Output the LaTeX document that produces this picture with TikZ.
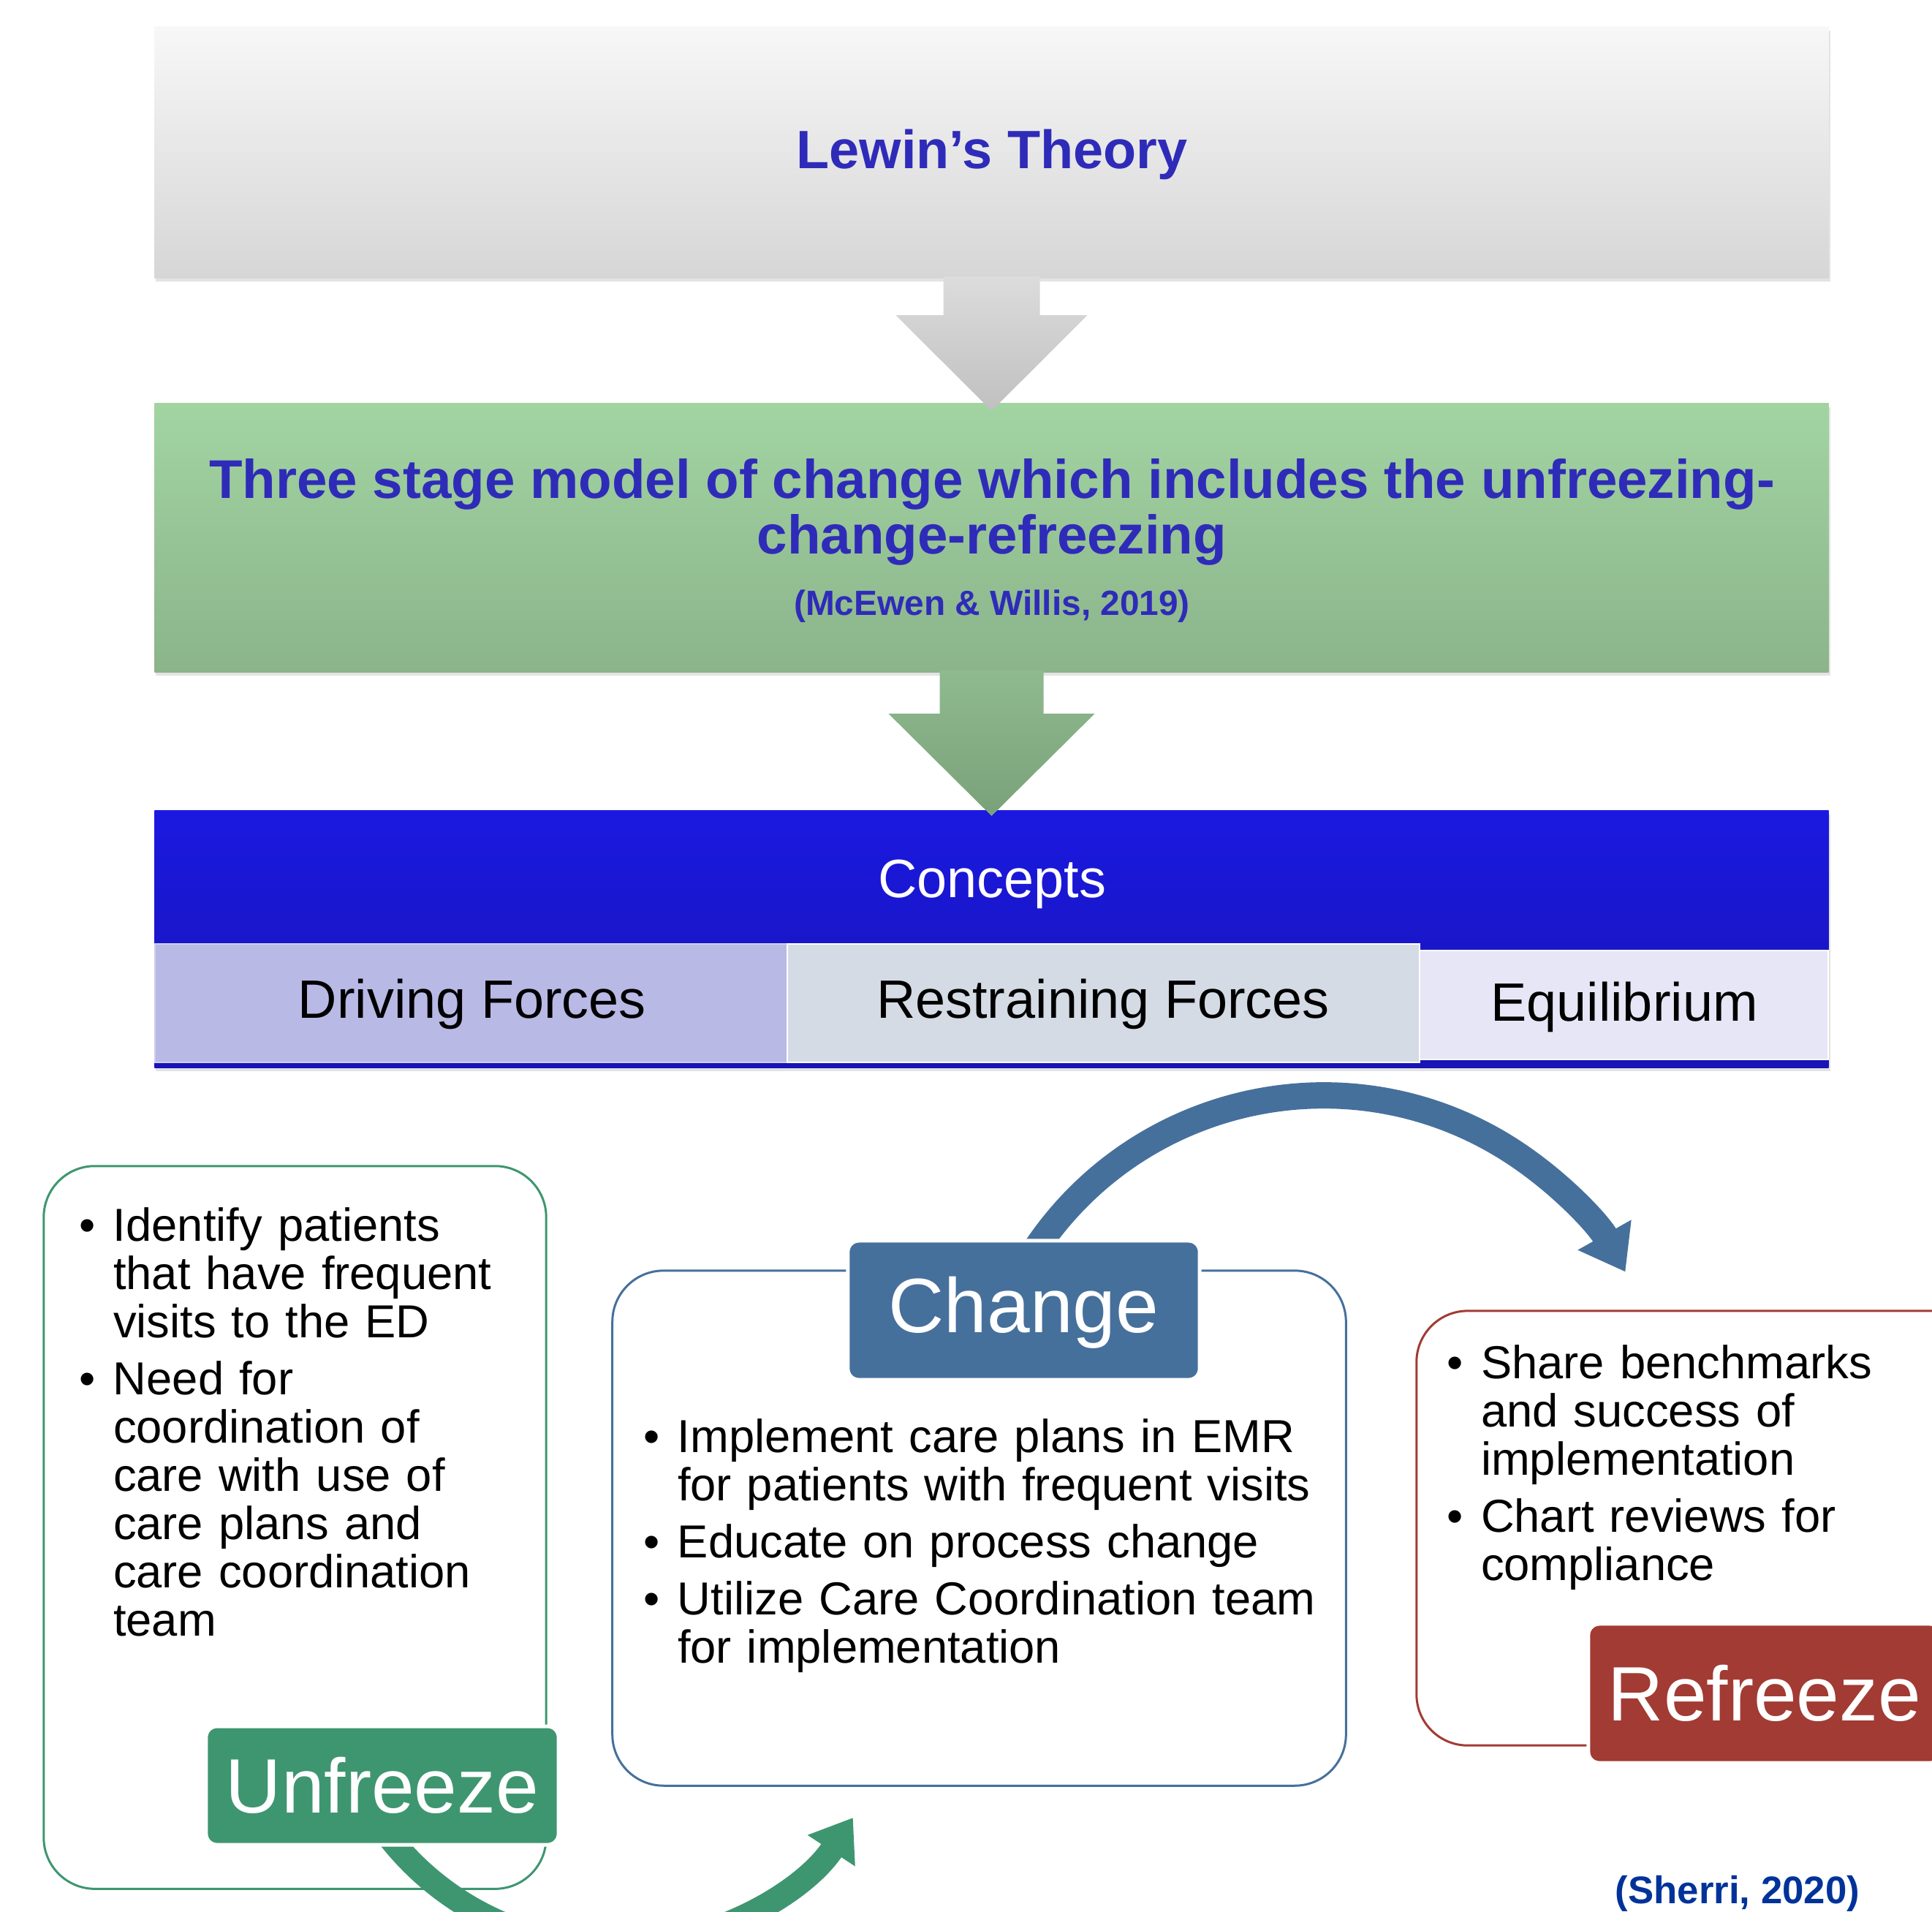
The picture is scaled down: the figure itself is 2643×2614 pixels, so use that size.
\documentclass[tikz,border=0pt]{standalone}
\usepackage{fontspec}
\setmainfont{Liberation Sans}
\usetikzlibrary{arrows.meta,calc,shadows}
\definecolor{titleblue}{RGB}{47,43,185}
\definecolor{citeblue}{RGB}{0,51,153}
\definecolor{ufgreen}{RGB}{62,150,112}
\definecolor{chblue}{RGB}{70,112,156}
\definecolor{rfred}{RGB}{162,59,51}
\definecolor{graytop}{RGB}{247,247,247}
\definecolor{graybot}{RGB}{214,214,214}
\definecolor{greentop}{RGB}{162,212,162}
\definecolor{greenbot}{RGB}{139,180,139}
\definecolor{agraytop}{RGB}{220,220,220}
\definecolor{agraybot}{RGB}{192,192,192}
\definecolor{agreentop}{RGB}{143,185,143}
\definecolor{agreenbot}{RGB}{122,162,122}
\definecolor{conctop}{RGB}{27,25,224}
\definecolor{concbot}{RGB}{24,20,182}
\definecolor{drivecol}{RGB}{185,185,230}
\definecolor{restcol}{RGB}{213,219,229}
\definecolor{equicol}{RGB}{230,230,246}
\newcommand{\bul}{\makebox[0.47cm][l]{•}}
\newcommand{\bfirst}[1]{\hangindent=0.47cm\hangafter=1\noindent\bul#1\par}
\newcommand{\bnext}[2]{\vspace{#1}\hangindent=0.47cm\hangafter=1\noindent\bul#2\par}
\begin{document}
\begin{tikzpicture}[x=0.01cm, y=-0.01cm,
  every node/.style={inner sep=0pt, outer sep=0pt},
  bigbox/.style={minimum width=22.89cm, drop shadow={shadow xshift=0.02cm, shadow yshift=-0.05cm, opacity=0.22}},
  titletext/.style={font=\bfseries\fontsize{21pt}{25pt}\selectfont, text=titleblue, anchor=base},
  celltext/.style={font=\fontsize{21pt}{25pt}\selectfont, anchor=base},
  cellbox/.style={line width=0.02cm},
  outlinebox/.style={line width=0.03cm, rounded corners=0.7cm},
  stagelabel/.style={rounded corners=0.15cm, draw=white, line width=0.05cm, text=white,
    font=\fontsize{30pt}{36pt}\selectfont, minimum width=4.82cm},
  bodytext/.style={anchor=base west, align=left, font=\fontsize{18pt}{0.66cm}\selectfont}
]
\path[use as bounding box] (0,0) rectangle (2643,2614);
\clip (0,0) rectangle (2643,2614);

% ---------- top boxes ----------
\node[bigbox, minimum height=3.43cm, top color=graytop, bottom color=graybot] (lewin) at (1356.5,208.5) {};
\node[titletext] (lewint) at (1357,230) {Lewin’s Theory};

\node[bigbox, minimum height=3.67cm, top color=greentop, bottom color=greenbot] (stage) at (1356.5,735.5) {};
\node[titletext, font=\bfseries\fontsize{21.2pt}{25pt}\selectfont] (stage1) at (1357,681) {Three stage model of change which includes the unfreezing-};
\node[titletext, font=\bfseries\fontsize{21.2pt}{25pt}\selectfont] (stage2) at (1357,757) {change-refreezing};
\node[titletext, font=\bfseries\fontsize{13.6pt}{16pt}\selectfont] (cite1) at (1357,841) {(McEwen \& Willis, 2019)};

\node[bigbox, minimum height=3.51cm, top color=conctop, bottom color=concbot] (concepts) at (1356.5,1284.5) {};
\node[celltext, text=white] (conct) at (1357,1227) {Concepts};
\node[cellbox, fill=drivecol, draw=drivecol!70!white, minimum width=8.65cm, minimum height=1.62cm] (drive) at (644.5,1372) {};
\node[cellbox, fill=restcol, draw=white, minimum width=8.65cm, minimum height=1.62cm] (rest) at (1509.5,1372) {};
\node[cellbox, fill=equicol, draw=white, minimum width=5.59cm, minimum height=1.49cm] (equi) at (2221.5,1374.5) {};
\node[celltext] (drivet) at (646,1392) {Driving Forces};
\node[celltext] (restt) at (1509,1392) {Restraining Forces};
\node[celltext] (equit) at (2222,1396) {Equilibrium};

% ---------- block arrows ----------
\shade[top color=agraytop, bottom color=agraybot]
  ($(lewin.south)+(-66,-2)$) -- ($(lewin.south)+(-66,51)$) -- ($(lewin.south)+(-131,51)$)
  -- ($(stage.north)+(0,10)$) -- ($(lewin.south)+(131,51)$) -- ($(lewin.south)+(66,51)$)
  -- ($(lewin.south)+(66,-2)$) -- cycle;
\shade[top color=agreentop, bottom color=agreenbot]
  ($(stage.south)+(-71,-2)$) -- ($(stage.south)+(-71,57)$) -- ($(stage.south)+(-141,57)$)
  -- ($(concepts.north)+(0,7)$) -- ($(stage.south)+(141,57)$) -- ($(stage.south)+(71,57)$)
  -- ($(stage.south)+(71,-2)$) -- cycle;

% ---------- stage outlines ----------
\node[outlinebox, draw=ufgreen, minimum width=6.87cm, minimum height=9.88cm] (ufb) at (403.5,2089) {};
\node[outlinebox, draw=chblue, minimum width=10.03cm, minimum height=7.04cm] (chb) at (1339.5,2090) {};
\node[outlinebox, draw=rfred, minimum width=7.82cm, minimum height=5.94cm] (rfb) at (2329,2090) {};

% ---------- curved arrows ----------
\coordinate (ufl) at (523,2442);
\coordinate (chl) at (1400.5,1792);
\coordinate (gstart) at ($(ufl)+(9,70)$);
\coordinate (bstart) at ($(chl)+(12.5,-78)$);
\draw[ufgreen, line width=0.33cm, -{Triangle[length=0.54cm, width=0.74cm]}]
  (gstart) arc[start angle=142, end angle=33.3, radius=391];
\draw[chblue, line width=0.36cm, -{Triangle[length=0.58cm, width=0.80cm]}]
  (bstart) arc[start angle=-147, end angle=-29.4, radius=474];

% ---------- stage labels ----------
\node[stagelabel, fill=ufgreen, minimum height=1.62cm] (uflab) at (ufl) {Unfreeze};
\node[stagelabel, fill=chblue, minimum width=4.81cm, minimum height=1.90cm, text depth=0.15cm] (chlab) at (chl) {Change};
\node[stagelabel, fill=rfred, minimum height=1.90cm] (rflab) at (2414,2316) {Refreeze};

% ---------- bullet texts ----------
\node[bodytext, text width=6.2cm] (uft) at (108,1697) {%
\bfirst{Identify patients\newline that have frequent\newline visits to the ED}%
\bnext{0.12cm}{Need for\newline coordination of\newline care with use of\newline care plans and\newline care coordination\newline team}};
\node[bodytext, text width=9.5cm] (cht) at (880,1986) {%
\bfirst{Implement care plans in EMR\newline for patients with frequent visits}%
\bnext{0.12cm}{Educate on process change}%
\bnext{0.12cm}{Utilize Care Coordination team\newline for implementation}};
\node[bodytext, text width=6.2cm] (rft) at (1979,1885) {%
\bfirst{Share benchmarks\newline and success of\newline implementation}%
\bnext{0.12cm}{Chart reviews for\newline compliance}};

\node[font=\bfseries\fontsize{15pt}{18pt}\selectfont, text=citeblue, anchor=base] (cite2) at (2377,2603) {(Sherri, 2020)};
\end{tikzpicture}
\end{document}
